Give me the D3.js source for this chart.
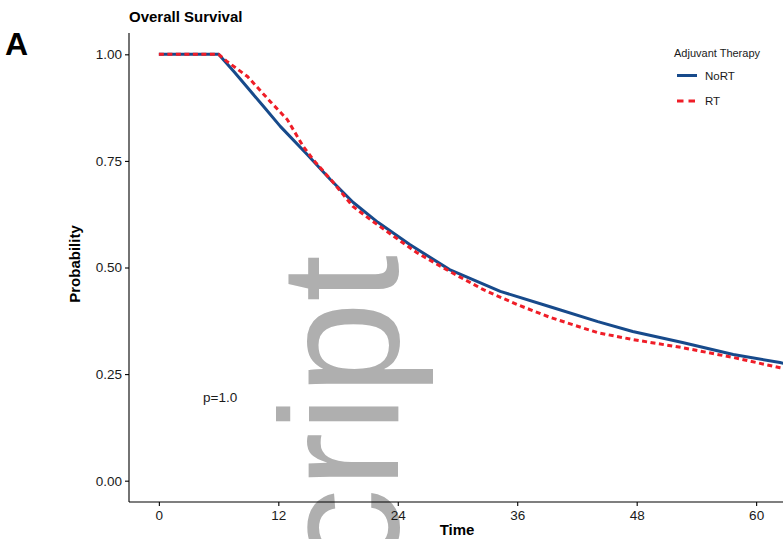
<!DOCTYPE html>
<html>
<head>
<meta charset="utf-8">
<script src="https://cdn.jsdelivr.net/npm/d3@7"></script>
<style>
  html, body { margin: 0; padding: 0; background: #fff; }
  svg { display: block; font-family: "Liberation Sans", Arial, Helvetica, sans-serif; }
</style>
</head>
<body>
<svg id="chart" width="783" height="539"></svg>
<script>
// ---- data ----
const groups = ["NoRT", "RT"];
const noRtTime = [0, 6, 7.6, 10.5, 12.2, 14.9, 17.2, 19.5, 22.0, 25.2, 29.2, 34.3, 39.3, 44.1, 47.6, 52.6, 57.7, 62.4, 63];
const noRtSurv = [1, 1, 0.958, 0.878, 0.831, 0.765, 0.707, 0.653, 0.606, 0.554, 0.495, 0.444, 0.408, 0.373, 0.350, 0.324, 0.296, 0.277, 0.274];
const rtTime = [0, 6, 6.8, 8.9, 11.2, 12.9, 14.5, 15.5, 17.5, 19.5, 21.5, 25.9, 29.2, 32.6, 36.0, 39.3, 44.1, 47.6, 52.6, 57.7, 62.4, 63];
const rtSurv = [1, 1, 0.984, 0.948, 0.889, 0.847, 0.784, 0.753, 0.700, 0.643, 0.608, 0.535, 0.491, 0.448, 0.413, 0.383, 0.347, 0.331, 0.312, 0.289, 0.265, 0.262];
const xTicks = [0, 12, 24, 36, 48, 60];
const yTicks = [0, 0.25, 0.5, 0.75, 1];
const pText = "p=1.0";

const colors = { NoRT: "#174a8b", RT: "#ef1d27" };

const svg = d3.select("#chart");
const L = 129, R = 786, T = 33, B = 502;

const x = d3.scaleLinear().domain([-3, 63]).range([L, R]);
const y = d3.scaleLinear().domain([-0.05, 1.05]).range([B, T]);

// watermark (behind everything)
svg.append("text")
  .attr("transform", "translate(398,255) rotate(-90)")
  .attr("text-anchor", "end")
  .attr("font-size", 168)
  .attr("fill", "#afafaf")
  .text("cript");

// clip
svg.append("defs").append("clipPath").attr("id", "clip")
  .append("rect").attr("x", L).attr("y", T - 5).attr("width", R - L).attr("height", B - T + 5);

const line = d3.line().x(d => x(d[0])).y(d => y(d[1]));

const g = svg.append("g").attr("clip-path", "url(#clip)");
g.append("path")
  .datum(noRtTime.map((t, i) => [t, noRtSurv[i]]))
  .attr("d", line)
  .attr("fill", "none")
  .attr("stroke", colors.NoRT)
  .attr("stroke-width", 3)
  .attr("stroke-linejoin", "round");
g.append("path")
  .datum(rtTime.map((t, i) => [t, rtSurv[i]]))
  .attr("d", line)
  .attr("fill", "none")
  .attr("stroke", colors.RT)
  .attr("stroke-width", 3)
  .attr("stroke-dasharray", "5,3.5");

// axes
const xAxis = svg.append("g").attr("transform", `translate(0,${B})`)
  .call(d3.axisBottom(x).tickValues(xTicks).tickSize(4).tickPadding(4).tickSizeOuter(0));
const yAxis = svg.append("g").attr("transform", `translate(${L},0)`)
  .call(d3.axisLeft(y).tickValues(yTicks).tickFormat(d3.format(".2f")).tickSize(4).tickPadding(3).tickSizeOuter(0));
[xAxis, yAxis].forEach(a => {
  a.select(".domain").attr("stroke", "#000").attr("stroke-width", 1.1);
  a.selectAll(".tick line").attr("stroke", "#000").attr("stroke-width", 1.1);
  a.selectAll(".tick text").attr("fill", "#1a1a1a").attr("font-size", 13.5)
    .attr("font-family", "'Liberation Sans', Arial, sans-serif");
});
xAxis.select(".domain").attr("d", `M${L},0H${R}`);
yAxis.select(".domain").attr("d", `M0,${T}V${B}`);

// labels
svg.append("text").attr("x", 5).attr("y", 55).attr("font-size", 32).attr("font-weight", "bold").text("A");
svg.append("text").attr("x", 129).attr("y", 22).attr("font-size", 15).attr("font-weight", "bold").text("Overall Survival");
svg.append("text").attr("x", 457).attr("y", 535).attr("text-anchor", "middle")
  .attr("font-size", 15).attr("font-weight", "bold").text("Time");
svg.append("text").attr("transform", "translate(80,264) rotate(-90)").attr("text-anchor", "middle")
  .attr("font-size", 15).attr("font-weight", "bold").text("Probability");
svg.append("text").attr("x", 203).attr("y", 402).attr("font-size", 13.5).attr("fill", "#1a1a1a").text(pText);

// legend
const lg = svg.append("g");
lg.append("text").attr("x", 674).attr("y", 57).attr("font-size", 11).attr("fill", "#1a1a1a").text("Adjuvant Therapy");
groups.forEach((k, i) => {
  const yy = 75.5 + i * 25.5;
  lg.append("line").attr("x1", 677).attr("x2", 697).attr("y1", yy).attr("y2", yy)
    .attr("stroke", colors[k]).attr("stroke-width", 3)
    .attr("stroke-dasharray", k === "RT" ? "6.5,5" : null);
  lg.append("text").attr("x", 705).attr("y", yy + 4).attr("font-size", 11.5).attr("fill", "#1a1a1a").text(k);
});
</script>
</body>
</html>
